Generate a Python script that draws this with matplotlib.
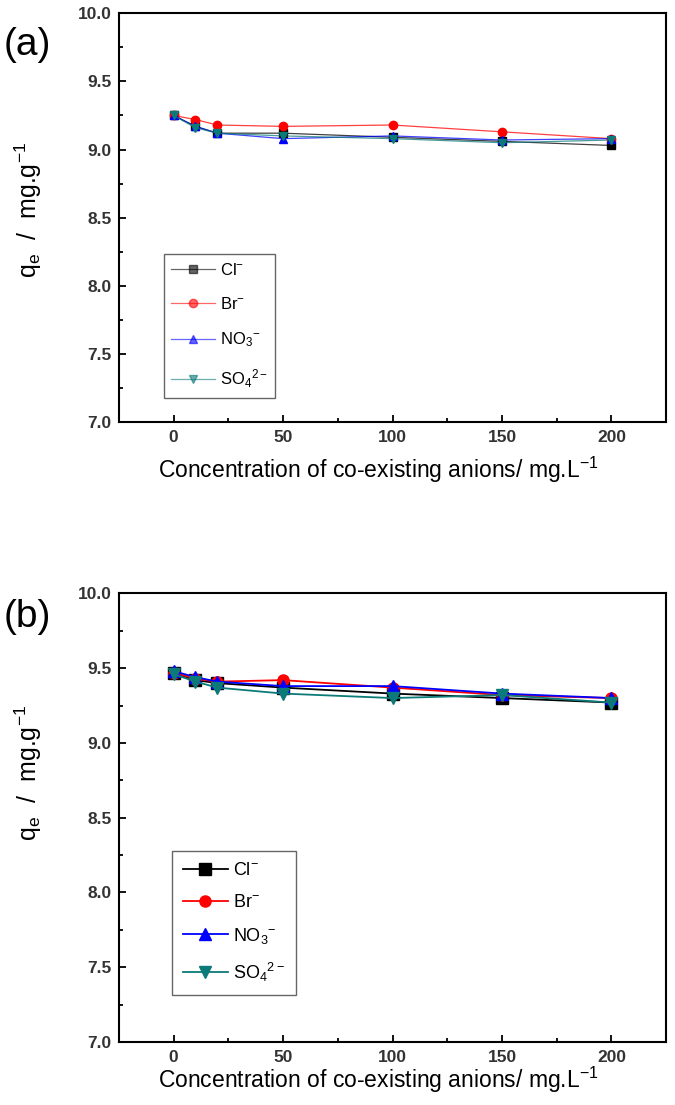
import numpy as np
import matplotlib

matplotlib.use("Agg")
from matplotlib import pyplot as plt
from matplotlib.ticker import MultipleLocator

plt.rcParams['font.family'] = ['Liberation Sans', 'DejaVu Sans']
plt.rcParams['mathtext.default'] = 'regular'

# ----------------
# Data
# ----------------
conc = [0, 10, 20, 50, 100, 150, 200]
labels = ['Cl$^{-}$', 'Br$^{-}$', 'NO$_3$$^{-}$', 'SO$_4$$^{2-}$']

# panel (a)
a_cl = [9.25, 9.17, 9.12, 9.12, 9.09, 9.06, 9.03]
a_br = [9.25, 9.22, 9.18, 9.17, 9.18, 9.13, 9.08]
a_no3 = [9.25, 9.17, 9.12, 9.08, 9.10, 9.07, 9.08]
a_so4 = [9.25, 9.16, 9.12, 9.10, 9.08, 9.05, 9.07]

# panel (b)
b_cl = [9.47, 9.42, 9.40, 9.37, 9.33, 9.30, 9.27]
b_br = [9.47, 9.43, 9.41, 9.42, 9.37, 9.32, 9.30]
b_no3 = [9.48, 9.44, 9.41, 9.38, 9.38, 9.33, 9.30]
b_so4 = [9.46, 9.41, 9.37, 9.33, 9.30, 9.32, 9.27]

colors = ['black', 'red', 'blue', '#0b7a78']
markers = ['s', 'o', '^', 'v']


# Function to style one panel like the original Origin plot
def style_axes(ax, xlab_y, ylab_y):
    ax.set_xlim(-25, 225)
    ax.set_ylim(7.0, 10.0)
    ax.xaxis.set_major_locator(MultipleLocator(50))
    ax.xaxis.set_minor_locator(MultipleLocator(25))
    ax.yaxis.set_major_locator(MultipleLocator(0.5))
    ax.yaxis.set_minor_locator(MultipleLocator(0.25))
    ax.yaxis.set_major_formatter(matplotlib.ticker.FormatStrFormatter('%.1f'))
    ax.tick_params(which='both', direction='in', top=False, right=False,
                   width=1.3, labelsize=12.5, labelcolor='#333333')
    ax.tick_params(which='major', length=5)
    ax.tick_params(which='minor', length=3)
    ax.tick_params(axis='x', pad=6)
    ax.tick_params(axis='y', pad=5)
    for lab in ax.get_xticklabels() + ax.get_yticklabels():
        lab.set_fontweight('bold')
    for sp in ax.spines.values():
        sp.set_linewidth(1.5)
    ax.set_xlabel('Concentration of co-existing anions/ mg.L$^{-1}$', fontsize=16.5)
    ax.xaxis.set_label_coords(0.474, xlab_y)
    ax.set_ylabel('q$_e$  /  mg.g$^{-1}$', fontsize=18)
    ax.yaxis.set_label_coords(-0.137, ylab_y)


fig = plt.figure(figsize=(6.75, 11.05), dpi=100)
ax1 = fig.add_axes([0.176, 0.618, 0.811, 0.370])
ax2 = fig.add_axes([0.176, 0.057, 0.811, 0.406])

# Panel (a): thin lines, small markers
for vals, c, m, lab in zip([a_cl, a_br, a_no3, a_so4], colors, markers, labels):
    ax1.plot(conc, vals, color=c, lw=0.9, alpha=0.75, label=lab)
    ax1.plot(conc, vals, linestyle='none', marker=m, ms=6, color=c)
h1 = [plt.Line2D([], [], color=c, lw=0.9, alpha=0.6, marker=m, ms=6,
                 markerfacecolor=c, markeredgecolor=c)
      for c, m in zip(colors, markers)]
ax1.legend(h1, labels, loc='upper left', bbox_to_anchor=(0.082, 0.41),
           fontsize=12, handlelength=2.6, labelspacing=1.1,
           fancybox=False, edgecolor='#666666', framealpha=1,
           borderpad=0.45, handletextpad=0.3, borderaxespad=0)
style_axes(ax1, -0.081, 0.52)

# Panel (b): thicker lines, bigger markers
for vals, c, m, lab in zip([b_cl, b_br, b_no3, b_so4], colors, markers, labels):
    ax2.plot(conc, vals, color=c, lw=1.3, marker=m, ms=8, label=lab)
ax2.legend(loc='upper left', bbox_to_anchor=(0.097, 0.425),
           fontsize=13, handlelength=2.5, labelspacing=0.82,
           fancybox=False, edgecolor='#666666', framealpha=1,
           borderpad=0.6, handletextpad=0.3, borderaxespad=0)
style_axes(ax2, -0.051, 0.6)

fig.text(0.005, 1 - 45 / 1105, '(a)', fontsize=28, va='center', ha='left')
fig.text(0.005, 1 - 617 / 1105, '(b)', fontsize=28, va='center', ha='left')

fig.savefig('out.png', dpi=100)
